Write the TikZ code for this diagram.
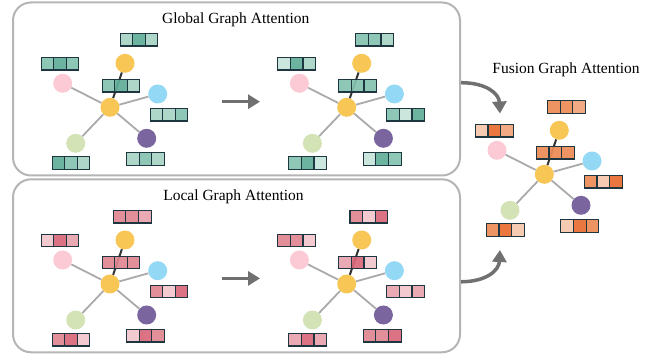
\documentclass[tikz,border=0pt]{standalone}
\usepackage{fontspec}
\setmainfont{Liberation Serif}
\usetikzlibrary{arrows.meta}

% node colours
\definecolor{nYellow}{HTML}{F8C654}
\definecolor{nPink}{HTML}{FCCAD4}
\definecolor{nBlue}{HTML}{93D9F6}
\definecolor{nPurple}{HTML}{7A659E}
\definecolor{nGreen}{HTML}{D4E3B5}
% feature cells: teal, rose, orange (dark to very light)
\definecolor{tA}{HTML}{5FAE97}
\definecolor{tB}{HTML}{84C2AF}
\definecolor{tC}{HTML}{A7D4C6}
\definecolor{tD}{HTML}{C6E4DA}
\definecolor{pA}{HTML}{D86779}
\definecolor{pB}{HTML}{DF8591}
\definecolor{pC}{HTML}{E8A3AC}
\definecolor{pD}{HTML}{F2C6CB}
\definecolor{oA}{HTML}{E86B30}
\definecolor{oB}{HTML}{ED8B56}
\definecolor{oC}{HTML}{F1A379}
\definecolor{oD}{HTML}{F6C6AB}
% lines
\definecolor{panelgray}{HTML}{B5B5B5}
\definecolor{edgegray}{HTML}{AAAAAA}
\definecolor{edgedark}{HTML}{333333}
\definecolor{celledge}{HTML}{1E3640}
\definecolor{arrowgray}{HTML}{707070}

% star graph: centre node linked to five neighbours
\newcommand\stargraph[1]{%
  \node[gnode,fill=nYellow] (#1c) at (110,107.3) {};
  \node[gnode,fill=nYellow] (#1t) at (125,63.3) {};
  \node[gnode,fill=nPink]   (#1p) at (62.7,83.3) {};
  \node[gnode,fill=nBlue]   (#1b) at (157.7,94) {};
  \node[gnode,fill=nPurple] (#1v) at (146.7,138.3) {};
  \node[gnode,fill=nGreen]  (#1g) at (75.7,143.3) {};
  \draw[gedge] (#1c) -- (#1p);
  \draw[gedge] (#1c) -- (#1b);
  \draw[gedge] (#1c) -- (#1v);
  \draw[gedge] (#1c) -- (#1g);
  \draw[kedge] (#1c) -- (#1t);
}
% a three-cell feature vector centred at #2
\newcommand\featrow[5]{%
  \node[cell,fill=#3,xshift=-12.6pt] (#1-1) at (#2) {};
  \node[cell,fill=#4] (#1-2) at (#2) {};
  \node[cell,fill=#5,xshift=12.6pt] (#1-3) at (#2) {};
}

\begin{document}
\begin{tikzpicture}[x=1pt,y=-1pt,
  panel/.style={draw=panelgray, line width=2pt, rounded corners=18pt,
    minimum width=447pt, minimum height=173pt, inner sep=0pt},
  gnode/.style={circle, minimum size=19pt, inner sep=0pt},
  gedge/.style={draw=edgegray, line width=1.8pt},
  kedge/.style={draw=edgedark, line width=2pt},
  cell/.style={draw=celledge, line width=1.1pt, minimum width=12.6pt,
    minimum height=12.6pt, inner sep=0pt, fill opacity=0.92},
  title/.style={font=\fontsize{15.5}{18}\selectfont, anchor=base, inner sep=0pt},
  flow/.style={draw=arrowgray, line width=3.5pt,
    -{Triangle[length=12pt,width=14pt]}}]
\useasboundingbox (0,0) rectangle (665,358);

% panels
\node[panel] (gbox) at (236.5,89) {};
\node[panel] (lbox) at (236.5,265.8) {};

% titles
\node[title] (gtitle) at (235.8,23.3) {Global Graph Attention};
\node[title] (ltitle) at (233.5,201) {Local Graph Attention};
\node[title] (ftitle) at (566,73.5) {Fusion Graph Attention};

% global attention, before
\begin{scope}
  \stargraph{ga}
  \featrow{gaT}{139,39.7}{tC}{tA}{tC}
  \featrow{gaP}{60,63.7}{tB}{tA}{tB}
  \featrow{gaM}{121,85.7}{tB}{tA}{tC}
  \featrow{gaB}{169,114.7}{tC}{tC}{tB}
  \featrow{gaV}{145.5,159}{tC}{tB}{tC}
  \featrow{gaG}{71,163}{tA}{tB}{tC}
\end{scope}
% global attention, after
\begin{scope}[shift={(236.7,0)}]
  \stargraph{gb}
  \featrow{gbT}{138,39.7}{tB}{tB}{tC}
  \featrow{gbP}{60,63.7}{tD}{tA}{tC}
  \featrow{gbM}{121,85.7}{tB}{tB}{tB}
  \featrow{gbB}{169,114.7}{tB}{tD}{tA}
  \featrow{gbV}{145.5,159}{tD}{tA}{tB}
  \featrow{gbG}{71,163}{tB}{tA}{tD}
\end{scope}
% local attention, before
\begin{scope}[shift={(0,176.7)}]
  \stargraph{la}
  \featrow{laT}{132.2,40}{pB}{pB}{pC}
  \featrow{laP}{60,63.7}{pD}{pA}{pC}
  \featrow{laM}{121,85.7}{pB}{pB}{pB}
  \featrow{laB}{169,114.7}{pB}{pD}{pA}
  \featrow{laV}{145.5,159}{pD}{pA}{pB}
  \featrow{laG}{71,163}{pB}{pA}{pD}
\end{scope}
% local attention, after
\begin{scope}[shift={(236.7,176.7)}]
  \stargraph{lb}
  \featrow{lbT}{132.2,40}{pB}{pD}{pA}
  \featrow{lbP}{60,63.7}{pB}{pB}{pD}
  \featrow{lbM}{121,85.7}{pC}{pA}{pD}
  \featrow{lbB}{169,114.7}{pC}{pD}{pC}
  \featrow{lbV}{145.5,159}{pB}{pB}{pA}
  \featrow{lbG}{71,163}{pC}{pA}{pC}
\end{scope}
% fused result
\begin{scope}[shift={(434.3,67)}]
  \stargraph{fu}
  \featrow{fuT}{132.2,40}{oB}{oB}{oC}
  \featrow{fuP}{60,63.7}{oD}{oA}{oC}
  \featrow{fuM}{121,85.7}{oB}{oB}{oB}
  \featrow{fuB}{169,114.7}{oB}{oD}{oA}
  \featrow{fuV}{145.5,159}{oD}{oA}{oB}
  \featrow{fuG}{71,163}{oB}{oA}{oD}
\end{scope}

% update arrows inside the panels
\coordinate (gs) at (221.7,101.7);
\coordinate (ge) at (260,101.7);
\coordinate (ls) at (221.7,278.4);
\coordinate (le) at (260,278.4);
\draw[flow] (gs) -- (ge);
\draw[flow] (ls) -- (le);

% arrows into the fusion graph
\coordinate (ftop) at (500,113.5);
\coordinate (fbot) at (500,250);
\draw[flow] ([yshift=6.3pt]gbox.east) .. controls (487,82.7) and (499,94) .. (ftop);
\draw[flow] ([yshift=-16pt]lbox.east) .. controls (487,281.7) and (499,270) .. (fbot);
\end{tikzpicture}
\end{document}
